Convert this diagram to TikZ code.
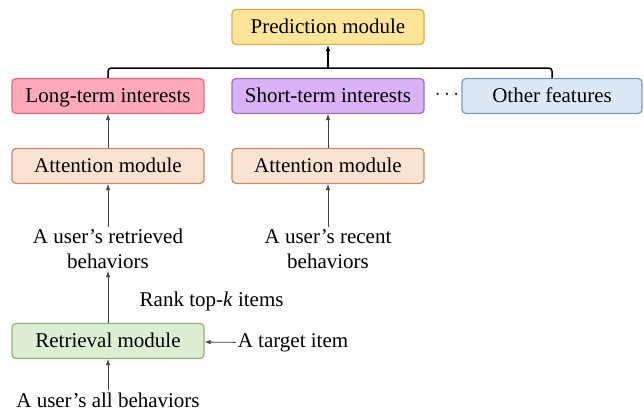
\documentclass[tikz,border=0pt]{standalone}
\usepackage{fontspec}
\setmainfont{Liberation Serif}
\usepackage{xcolor}
\usepackage{tikz}
\usetikzlibrary{shapes.geometric, arrows.meta}
\definecolor{predfill}{HTML}{FFE599}
\definecolor{preddraw}{HTML}{D6AE4A}
\definecolor{longfill}{HTML}{FFAABA}
\definecolor{longdraw}{HTML}{E2687A}
\definecolor{shortfill}{HTML}{D8B3F5}
\definecolor{shortdraw}{HTML}{9673A6}
\definecolor{otherfill}{HTML}{DCE8F6}
\definecolor{otherdraw}{HTML}{7C98BF}
\definecolor{attfill}{HTML}{FBE3D4}
\definecolor{attdraw}{HTML}{C58A6E}
\definecolor{retfill}{HTML}{DDEED5}
\definecolor{retdraw}{HTML}{8DB37A}
\tikzstyle{module} = [rectangle, rounded corners=4pt, minimum width=192pt, minimum height=35pt, text height=14pt, text depth=0.5pt, text centered, line width=1.2pt]
\tikzstyle{predict} = [module, draw=preddraw, fill=predfill]
\tikzstyle{longterm} = [module, draw=longdraw, fill=longfill]
\tikzstyle{shortterm} = [module, draw=shortdraw, fill=shortfill]
\tikzstyle{otherfeat} = [module, minimum width=180pt, draw=otherdraw, fill=otherfill]
\tikzstyle{attention} = [module, draw=attdraw, fill=attfill]
\tikzstyle{retrieve} = [module, draw=retdraw, fill=retfill]
\tikzstyle{plain} = [align=center, inner sep=2pt]
\tikzstyle{arrow} = [line width=0.8pt, draw=black!75, -{Latex[length=6pt, width=4.5pt]}]
\tikzstyle{bus} = [line width=1.5pt, rounded corners=3pt]

\begin{document}
\begin{tikzpicture}[x=1pt, y=1pt, node distance=70pt, font=\fontsize{21}{25}\selectfont]
	\useasboundingbox (0,0) rectangle (644,-411);
	\node (pred) [predict] at (328,-27) {Prediction module};
	\node (short) [shortterm, below of=pred, yshift=1pt] {Short-term interests};
	\node (long) [longterm, left of=short, xshift=-150pt] {Long-term interests};
	\node (other) [otherfeat, right of=short, xshift=154pt] {Other features};
	\node (dots) [right of=short, xshift=49pt, yshift=1pt] {$\cdots$};
	\node (att1) [attention, below of=long] {Attention module};
	\node (att2) [attention, below of=short] {Attention module};
	\node (retr) [plain, below of=att1, yshift=-13pt] {A user's retrieved\\behaviors};
	\node (recent) [plain, below of=att2, yshift=-13pt] {A user's recent\\behaviors};
	\node (retrieval) [retrieve, below of=retr, yshift=-22pt] {Retrieval module};
	\node (allb) [plain, below of=retrieval, yshift=11pt] {A user's all behaviors};
	\node (target) [plain, right of=retrieval, xshift=115pt, yshift=-2pt] {A target item};

	\path (pred.south) ++(0,-23) coordinate (joint);
	\draw [bus] (long.north) |- (joint) -| (other.north);
	\draw [bus, -{Latex[length=6pt, width=5pt]}] (joint) -- (pred.south);

	\draw [arrow] (att1) -- (long);
	\draw [arrow] (att2) -- (short);
	\draw [arrow] (retr) -- (att1);
	\draw [arrow] (recent) -- (att2);
	\draw [arrow] (retrieval) -- node[right, xshift=28pt, yshift=-4pt] {Rank top-\textit{k} items} (retr);
	\draw [arrow] (allb) -- (retrieval);
	\draw [arrow] (target) -- (retrieval);
\end{tikzpicture}
\end{document}
